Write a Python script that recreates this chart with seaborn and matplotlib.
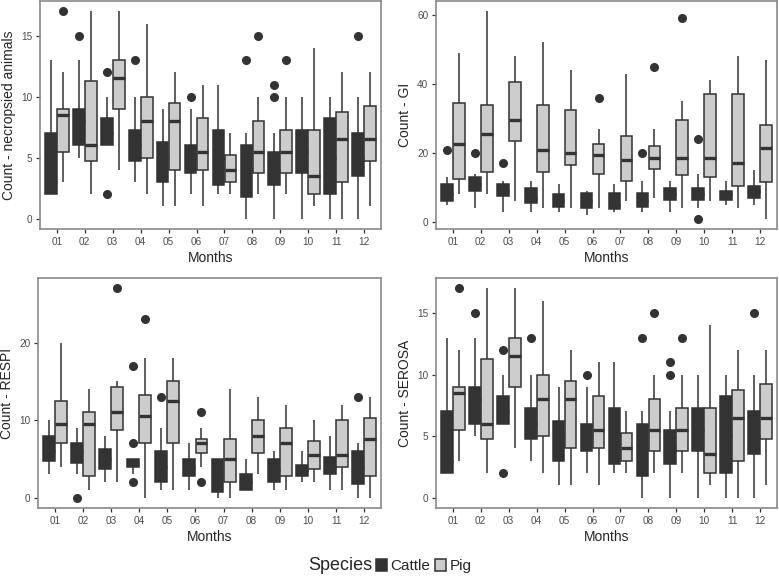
import numpy as np
import pandas as pd
import matplotlib
matplotlib.use("Agg")
import matplotlib.pyplot as plt
from matplotlib.patches import Patch
import seaborn as sns

months = ["01", "02", "03", "04", "05", "06", "07", "08", "09", "10", "11", "12"]
species = ["Cattle", "Pig"]

# box summaries: (whisker low, q1, median, q3, whisker high)
# plus the outlying points of each month

# necropsied animals
nec_cattle = [(2, 2, 3, 7, 13), (5, 6, 8, 9, 13), (6, 6, 7, 8.25, 10), (3, 4.75, 6, 7.25, 10),
              (1, 3, 5, 6.25, 9), (2, 3.75, 5, 6, 9), (2, 2.75, 5, 7.25, 11), (0, 1.75, 4, 6, 7),
              (0, 2.75, 4, 5.5, 7), (0, 3.75, 5.5, 7.25, 10), (0, 2, 5, 8.25, 10), (0, 3.5, 5, 7, 10)]
nec_cattle_out = [[], [15], [12, 2], [13], [], [10], [], [13], [10, 11], [], [], [15]]
nec_pig = [(3, 5.5, 8.5, 9, 12), (2, 4.75, 6, 11.25, 17), (4, 9, 11.5, 13, 17), (2, 5, 8, 10, 16),
           (1, 4, 8, 9.5, 12), (1, 4, 5.5, 8.25, 11), (2, 3, 4, 5.25, 7), (2, 3.75, 5.5, 8, 10),
           (2, 3.75, 5.5, 7.25, 10), (1, 2, 3.5, 7.25, 14), (0, 3, 6.5, 8.75, 12), (1, 4.75, 6.5, 9.25, 12)]
nec_pig_out = [[17], [], [], [], [], [], [], [15], [13], [], [], []]

# GI
gi_cattle = [(5, 6, 8, 11, 13), (4, 9, 11, 13, 14), (3, 7.5, 9, 11, 12), (3, 5.5, 7, 10, 12),
             (3, 4.5, 6, 8, 11), (2, 4, 6, 8.5, 9), (3, 3.75, 5, 8.5, 11), (3, 4.5, 6, 8.5, 12),
             (3, 6.5, 8, 10, 12), (4, 6.5, 8, 10, 14), (5, 6.5, 8, 9, 12), (5, 7, 9, 10.5, 15)]
gi_cattle_out = [[21], [20], [17], [], [], [], [], [20], [], [24, 1], [], []]
gi_pig = [(8, 12.5, 22.5, 34.5, 49), (8, 14.5, 25.5, 34, 61), (6, 23.5, 29.5, 40.5, 48),
          (4, 14.5, 21, 34, 52), (4, 16.5, 20, 32.5, 44), (4, 14, 19.5, 22.5, 27),
          (6, 12, 18, 25, 43), (7, 15.5, 18.5, 22, 27), (4, 13.5, 18.5, 29.5, 35),
          (6, 13, 18.5, 37, 41), (4, 10.5, 17, 37, 48), (1, 11.5, 21.5, 28, 47)]
gi_pig_out = [[], [], [], [], [], [36], [], [45], [59], [], [], []]

# RESPI
respi_cattle = [(3, 4.75, 6, 8, 10), (3, 4.5, 6, 7, 9), (2, 3.75, 5, 6.25, 8), (3, 4, 4.5, 5, 5),
                (1, 2, 4, 6, 9), (1, 2.75, 4, 5, 7), (0, 0.75, 3, 5, 5), (1, 1, 2, 3, 5),
                (1, 2, 3.5, 5, 6), (2, 2.75, 3.5, 4.25, 6), (1, 3, 4, 5.25, 8), (0, 1.75, 4, 6, 7)]
respi_cattle_out = [[], [0], [], [17, 7, 2], [13], [], [], [], [], [], [], [13]]
respi_pig = [(4, 7, 9.5, 12.5, 20), (1, 2.75, 9.5, 11, 14), (2, 8.75, 11, 14.25, 15),
             (0, 7, 10.5, 13.25, 18), (1, 7, 12.5, 15, 18), (4, 5.75, 7, 7.5, 9),
             (0, 2, 5, 7.5, 14), (3, 5.75, 8, 10, 13), (1, 2.75, 7, 9, 12),
             (2, 3.75, 5.5, 7.25, 10), (1, 4, 5.5, 10, 12), (0, 2.75, 7.5, 10.25, 13)]
respi_pig_out = [[], [], [27], [23], [], [11, 2], [], [], [], [], [], []]

# SEROSA shows the very same boxes as the necropsied panel
serosa_cattle, serosa_cattle_out = nec_cattle, nec_cattle_out
serosa_pig, serosa_pig_out = nec_pig, nec_pig_out


def make_table(cattle, cattle_out, pig, pig_out):
    # raw counts whose quartiles / whiskers give back the summaries above
    rows = []
    for sp, boxes, outs in [("Cattle", cattle, cattle_out), ("Pig", pig, pig_out)]:
        for m, (lo, q1, med, q3, hi), out in zip(months, boxes, outs):
            vals = [lo] + [q1] * 10 + [med] * 10 + [q3] * 10 + [hi] + list(out)
            for v in vals:
                rows.append((m, sp, v))
    return pd.DataFrame(rows, columns=["Months", "Species", "Count"])


sns.set_style("white")
plt.rcParams["font.family"] = ["Liberation Sans", "DejaVu Sans"]

W, H = 779, 577
fig = plt.figure(figsize=(W / 100, H / 100), dpi=100)

panels = [
    ("Count - necropsied animals", make_table(nec_cattle, nec_cattle_out, nec_pig, nec_pig_out),
     [0, 5, 10, 15], (40, 1, 381, 229)),
    ("Count - GI", make_table(gi_cattle, gi_cattle_out, gi_pig, gi_pig_out),
     [0, 20, 40, 60], (436, 1, 777, 229)),
    ("Count - RESPI", make_table(respi_cattle, respi_cattle_out, respi_pig, respi_pig_out),
     [0, 10, 20], (38, 278, 381, 508)),
    ("Count - SEROSA", make_table(serosa_cattle, serosa_cattle_out, serosa_pig, serosa_pig_out),
     [0, 5, 10, 15], (436, 278, 777, 508)),
]

for ylab, df, yticks, (l, t, r, b) in panels:
    ax = fig.add_axes([l / W, 1 - b / H, (r - l) / W, (b - t) / H])
    sns.boxplot(data=df, x="Months", y="Count", hue="Species", order=months, hue_order=species,
                palette=["#333333", "#cccccc"], saturation=1, width=0.86, gap=0.02,
                linecolor="#333333", linewidth=1.1, showcaps=False,
                flierprops=dict(marker="o", markersize=5.5, markerfacecolor="#333333",
                                markeredgecolor="#333333"),
                medianprops=dict(linewidth=2.4), legend=False, ax=ax)
    lo, hi = df["Count"].min(), df["Count"].max()
    pad = 0.05 * (hi - lo)
    ax.set_ylim(lo - pad, hi + pad)
    ax.set_xlim(-0.6, 11.6)
    ax.set_yticks(yticks)
    ax.set_xlabel("Months", fontsize=10, labelpad=3)
    ax.set_ylabel(ylab, fontsize=10, labelpad=4)
    ax.tick_params(bottom=True, left=True, length=3, width=0.9, color="#333333",
                   labelsize=7.2, labelcolor="#4d4d4d", pad=2.5)
    for s in ax.spines.values():
        s.set_visible(True)
        s.set_color("#8a8a8a")
        s.set_linewidth(1.2)

# legend along the bottom, title on the left like ggplot
fig.text(308 / W, 1 - 566 / H, "Species", fontsize=13, va="center", ha="left")
handles = [Patch(facecolor="#333333", edgecolor="#333333", linewidth=1.1),
           Patch(facecolor="#cccccc", edgecolor="#333333", linewidth=1.1)]
fig.legend(handles=handles, labels=species, loc="center left", bbox_to_anchor=(376 / W, 1 - 566 / H),
           ncol=2, frameon=False, fontsize=11, handlelength=0.7, handleheight=0.85,
           handletextpad=0.25, columnspacing=0.3, borderpad=0, borderaxespad=0)

fig.savefig("out.png", dpi=100)
